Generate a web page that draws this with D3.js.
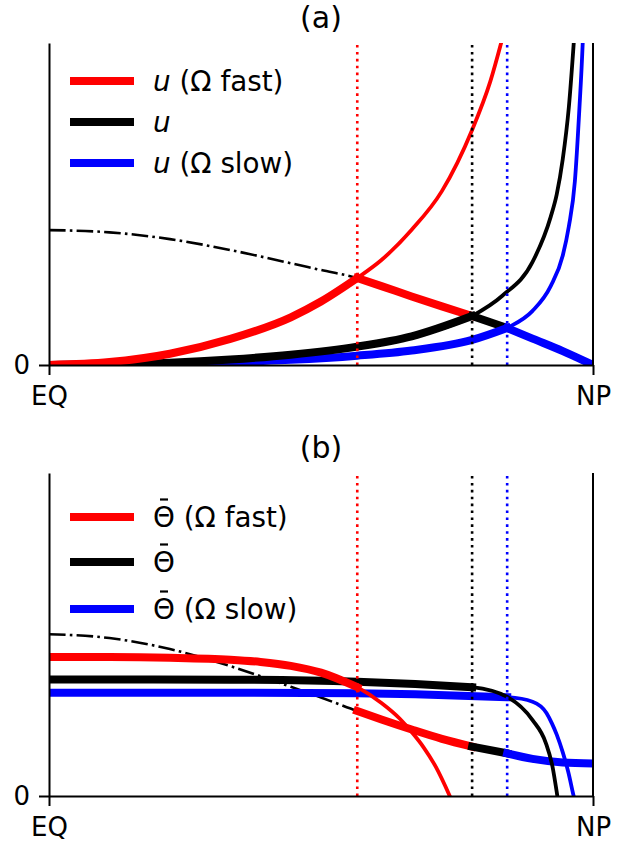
<!DOCTYPE html>
<html>
<head>
<meta charset="utf-8">
<script src="https://cdn.jsdelivr.net/npm/d3@7"></script>
<style>
  body { margin: 0; background: #fff; }
  svg { display: block; font-family: "DejaVu Sans", sans-serif; }
</style>
</head>
<body>
<svg id="chart" width="625" height="843"></svg>
<script>
// three rotation cases, drawn in legend order
const cases = ['fast', 'ref', 'slow'];
const colors = ['#ff0000', '#000000', '#0000ff'];
// latitude (deg) where each cell ends (dotted lines)
const edgeLat = [51, 70, 75.8];

// (a) zonal wind u, normalised so the panel top is 1
const uDashLat = [0, 10, 20, 30, 40, 45, 51, 55, 60, 65, 70, 75.8, 80, 85, 90];
const uDashVal = [0.419, 0.412, 0.391, 0.357, 0.316, 0.295, 0.270, 0.245, 0.213, 0.182, 0.152, 0.115, 0.082, 0.043, 0];

const uFastLat = [0, 10, 20, 30, 40, 45, 51, 55, 60, 65, 70, 73, 75.5];
const uFastVal = [0, 0.009, 0.035, 0.081, 0.148, 0.197, 0.270, 0.326, 0.42, 0.54, 0.73, 0.88, 1.05];
const uRefLat = [0, 10, 20, 30, 40, 51, 60, 70, 75, 80, 83, 84, 85, 86, 87];
const uRefVal = [0, 0.002, 0.007, 0.017, 0.032, 0.057, 0.089, 0.152, 0.215, 0.32, 0.46, 0.53, 0.64, 0.8, 1.05];
const uSlowLat = [0, 10, 20, 30, 40, 51, 60, 70, 75.8, 80, 83, 85, 86, 87, 87.7, 88.4, 88.8];
const uSlowVal = [0, 0.001, 0.004, 0.009, 0.016, 0.029, 0.045, 0.078, 0.115, 0.168, 0.245, 0.34, 0.43, 0.57, 0.78, 1.05, 1.3];

// (b) mean potential temperature, same normalisation
const thDashLat = [0, 10, 20, 30, 40, 45, 51, 55, 60, 65, 70, 75.8, 80, 85, 90];
const thDashVal = [0.501, 0.489, 0.455, 0.402, 0.338, 0.305, 0.263, 0.237, 0.206, 0.177, 0.153, 0.132, 0.115, 0.104, 0.101];

const thFastLat = [0, 10, 20, 30, 35, 40, 45, 51, 55, 58, 60, 62, 64, 66.3, 67];
const thFastVal = [0.430, 0.430, 0.428, 0.422, 0.415, 0.403, 0.382, 0.337, 0.288, 0.24, 0.198, 0.15, 0.09, 0.0, -0.03];
const thRefLat = [0, 30, 51, 60.6, 70, 75.8, 80, 82.2, 83.3, 84.1, 84.5];
const thRefVal = [0.361, 0.360, 0.354, 0.347, 0.337, 0.307, 0.235, 0.164, 0.091, 0.0, -0.05];
const thSlowLat = [0, 30, 51, 60.6, 75.8, 80, 82.3, 83.2, 84, 85, 85.9, 86.8, 87.2];
const thSlowVal = [0.320, 0.320, 0.318, 0.315, 0.306, 0.292, 0.257, 0.225, 0.19, 0.135, 0.075, 0.0, -0.03];

const xTicks = [0, 90];
const xTickLabels = ['EQ', 'NP'];

const svg = d3.select('#chart');
svg.append('rect').attr('width', 625).attr('height', 843).attr('fill', '#fff');

const x = d3.scaleLinear().domain([0, 90]).range([49, 593]);

function pts(lat, val) {
  return lat.map((d, i) => [d, val[i]]);
}

function panel(p) {
  const y = d3.scaleLinear().domain([0, 1]).range([p.bottom, p.top]);
  const g = svg.append('g');

  const clipId = 'clip-' + p.name;
  svg.append('clipPath').attr('id', clipId).append('rect')
    .attr('x', x(0)).attr('y', p.top)
    .attr('width', x(90) - x(0)).attr('height', p.bottom - p.top);

  const plot = g.append('g').attr('clip-path', `url(#${clipId})`);
  const line = d3.line()
    .x(d => x(d[0]))
    .y(d => y(d[1]))
    .curve(d3.curveMonotoneX);

  const dash = pts(p.dashLat, p.dashVal);
  plot.append('path')
    .datum(dash)
    .attr('d', line)
    .attr('fill', 'none')
    .attr('stroke', '#000')
    .attr('stroke-width', 2.6)
    .attr('stroke-dasharray', '16.6,4.2,2.6,4.2');

  // thick descending branch, handed over from colour to colour
  cases.forEach((c, i) => {
    const lo = edgeLat[i];
    const hi = i < cases.length - 1 ? edgeLat[i + 1] : 90;
    plot.append('path')
      .datum(dash.filter(d => d[0] >= lo && d[0] <= hi))
      .attr('d', line)
      .attr('fill', 'none')
      .attr('stroke', colors[i])
      .attr('stroke-width', 8)
      .attr('stroke-linecap', 'square');
  });

  // slow first so red ends up on top
  for (let i = cases.length - 1; i >= 0; i--) {
    const s = pts(p.series[i][0], p.series[i][1]);
    plot.append('path')
      .datum(s)
      .attr('d', line)
      .attr('fill', 'none')
      .attr('stroke', colors[i])
      .attr('stroke-width', 3.8)
      .attr('stroke-linecap', 'square');
    plot.append('path')
      .datum(s.filter(d => d[0] <= edgeLat[i]))
      .attr('d', line)
      .attr('fill', 'none')
      .attr('stroke', colors[i])
      .attr('stroke-width', 8)
      .attr('stroke-linecap', 'square');
  }

  plot.selectAll('.edge')
    .data(edgeLat)
    .join('line')
    .attr('class', 'edge')
    .attr('x1', d => x(d)).attr('x2', d => x(d))
    .attr('y1', p.bottom).attr('y2', p.top)
    .attr('stroke', (d, i) => colors[i])
    .attr('stroke-width', 2.6)
    .attr('stroke-dasharray', '2.6,4.3');

  // axes
  const xAxis = g.append('g')
    .attr('transform', `translate(0,${p.bottom})`)
    .call(d3.axisBottom(x)
      .tickValues(xTicks)
      .tickFormat((d, i) => xTickLabels[i])
      .tickSize(10)
      .tickSizeOuter(0)
      .tickPadding(12));
  const yAxis = g.append('g')
    .attr('transform', `translate(${x(0)},0)`)
    .call(d3.axisLeft(y)
      .tickValues([0])
      .tickFormat(d3.format('d'))
      .tickSize(10)
      .tickSizeOuter(0)
      .tickPadding(9));
  [xAxis, yAxis].forEach(a => {
    a.attr('font-size', 26).attr('font-family', null);
    a.selectAll('path, line').attr('stroke', '#000').attr('stroke-width', 2);
    a.selectAll('text').attr('fill', '#000');
  });
  g.append('line')
    .attr('x1', x(90)).attr('x2', x(90))
    .attr('y1', p.top).attr('y2', p.bottom)
    .attr('stroke', '#000').attr('stroke-width', 2);

  g.append('text')
    .attr('x', (x(0) + x(90)) / 2)
    .attr('y', p.titleY)
    .attr('text-anchor', 'middle')
    .attr('font-size', 30)
    .text(p.title);

  // legend
  const leg = g.selectAll('.leg')
    .data(cases)
    .join('g')
    .attr('class', 'leg')
    .attr('transform', (d, i) => `translate(0,${p.legendY[i]})`);
  leg.append('line')
    .attr('x1', 70).attr('x2', 134)
    .attr('stroke', (d, i) => colors[i])
    .attr('stroke-width', 8);
  const t = leg.append('text')
    .attr('x', 153)
    .attr('dy', '0.35em')
    .attr('font-size', 27.8);
  t.append('tspan')
    .attr('font-style', p.symbolItalic ? 'italic' : null)
    .text(p.symbol);
  t.append('tspan')
    .text((d, i) => p.legendRest[i]);
  if (p.overbar) {
    // mean bar over the symbol
    leg.append('line')
      .attr('x1', 160).attr('x2', 168)
      .attr('y1', -17.5).attr('y2', -17.5)
      .attr('stroke', '#000')
      .attr('stroke-width', 2.2);
  }
}

panel({
  name: 'a',
  top: 43,
  bottom: 365,
  title: '(a)',
  titleY: 28,
  dashLat: uDashLat,
  dashVal: uDashVal,
  series: [[uFastLat, uFastVal], [uRefLat, uRefVal], [uSlowLat, uSlowVal]],
  symbol: 'u',
  symbolItalic: true,
  overbar: false,
  legendRest: [' (Ω fast)', '', ' (Ω slow)'],
  legendY: [81, 122, 163]
});

panel({
  name: 'b',
  top: 473,
  bottom: 796,
  title: '(b)',
  titleY: 458,
  dashLat: thDashLat,
  dashVal: thDashVal,
  series: [[thFastLat, thFastVal], [thRefLat, thRefVal], [thSlowLat, thSlowVal]],
  symbol: 'Θ',
  symbolItalic: false,
  overbar: true,
  legendRest: [' (Ω fast)', '', ' (Ω slow)'],
  legendY: [517, 562, 609]
});
</script>
</body>
</html>
